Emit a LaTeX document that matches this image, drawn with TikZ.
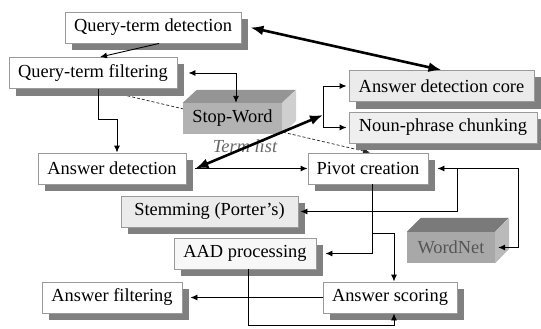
\documentclass[tikz,border=0pt]{standalone}
\usepackage{fontspec}
\setmainfont{Liberation Serif}
\usetikzlibrary{shadows,arrows.meta,backgrounds}

\definecolor{shgray}{HTML}{808080}
\definecolor{edgegray}{HTML}{9A9A9A}
\definecolor{paleA}{HTML}{EBEBEB}
\definecolor{paleB}{HTML}{EFEFEF}
\definecolor{paleC}{HTML}{F7F7F7}
\definecolor{swtop}{HTML}{959595}
\definecolor{swfront}{HTML}{B2B2B2}
\definecolor{swside}{HTML}{CFCFCF}
\definecolor{wntop}{HTML}{7A7A7A}
\definecolor{wnfront}{HTML}{A8A8A8}
\definecolor{wnside}{HTML}{BABABA}
\definecolor{wntext}{HTML}{555555}
\definecolor{listgray}{HTML}{666666}

\tikzset{
  box/.style={draw=edgegray, line width=0.9pt, fill=white, rectangle,
    inner sep=0pt, minimum height=31pt,
    font=\fontsize{18.4}{22}\selectfont,
    drop shadow={shadow xshift=7pt, shadow yshift=-7pt, fill=shgray, opacity=1}},
  cubeface/.style={rectangle, inner sep=0pt, minimum height=31pt,
    font=\fontsize{18.4}{22}\selectfont},
  link/.style={line width=0.9pt, -{Latex[length=7pt,width=6pt]}},
  link2/.style={line width=0.9pt, {Latex[length=7pt,width=6pt]}-{Latex[length=7pt,width=6pt]}},
  plain/.style={line width=0.9pt},
  heavy/.style={line width=2.6pt, {Latex[length=13pt,width=10pt]}-{Latex[length=13pt,width=10pt]}},
  refline/.style={line width=0.7pt, black!85, dash pattern=on 3pt off 2pt, -{Latex[length=7pt,width=6pt]}}
}

\begin{document}
\begin{tikzpicture}[x=1pt, y=-1pt]
\useasboundingbox (0,0) rectangle (541,329);

% processing steps
\node[box, minimum width=176pt] (qtd) at (153,27.5) {Query-term detection};
\node[box, minimum width=168pt] (qtf) at (93,73) {Query-term filtering};
\node[box, minimum width=185pt, fill=paleA] (adc) at (441.5,86) {Answer detection core};
\node[box, minimum width=188pt, fill=paleB] (npc) at (443,127.5) {Noun-phrase chunking};
\node[box, minimum width=148pt] (ad) at (112,168.5) {Answer detection};
\node[box, minimum width=120pt] (pc) at (368,168.5) {Pivot creation};
\node[box, minimum width=177pt, fill=paleA] (stem) at (209.5,211.5) {Stemming (Porter's)};
\node[box, minimum width=142pt, fill=paleC] (aad) at (245,253.5) {AAD processing};
\node[box, minimum width=140pt] (af) at (112,297.5) {Answer filtering};
\node[box, minimum width=134pt] (as) at (390,297.5) {Answer scoring};

% dashed reference line, running behind the resources
\begin{scope}[on background layer]
\draw[refline] ([xshift=5pt]qtf.south) -- ([xshift=2pt]pc.north);
\end{scope}

% resource: stop-word list (3D block)
\node[cubeface, minimum width=99pt, fill=swfront] (sw) at (232.5,118.5) {Stop-Word};
\fill[swtop] (sw.north west) -- ++(14,-13) -- ++(99,0) -- (sw.north east) -- cycle;
\fill[swside] (sw.north east) -- ++(14,-13) -- ++(0,31) -- (sw.south east) -- cycle;
\node[font=\itshape\fontsize{18.4}{22}\selectfont, text=listgray] (tl) at (245,146) {Term list};

% resource: WordNet (3D block)
\node[cubeface, minimum width=88pt, fill=wnfront, text=wntext] (wn) at (451,247.5) {WordNet};
\fill[wntop] (wn.north west) -- ++(14,-14) -- ++(88,0) -- (wn.north east) -- cycle;
\fill[wnside] (wn.north east) -- ++(14,-14) -- ++(0,31) -- (wn.south east) -- cycle;

% junction feeding the core modules
\coordinate (j) at (323,115);

% connectors
\draw[link] ([xshift=6pt]qtd.south) -- ([xshift=7pt]qtf.north);
\draw[link2] ([xshift=11pt]qtf.east) -| ([xshift=3.5pt]sw.north);
\draw[link] ([xshift=5pt]qtf.south) -- ++(0,30) -| ([xshift=5pt]ad.north);
\draw[heavy] ([xshift=9pt]qtd.east) -- (adc.north);
\draw[heavy] ([xshift=9pt]ad.east) -- (j);
\draw[link] (j) |- ([xshift=-2pt]adc.west);
\draw[link] (j) |- ([xshift=-2pt]npc.west);
\draw[link] ([xshift=9pt]ad.east) -- (pc.west);
\draw[link2] ([xshift=9pt]pc.east) -- ++(81,0) |- ([xshift=3pt]wn.east);
\draw[link] ([xshift=29pt]pc.east) |- ([xshift=2pt]stem.east);
\draw[link] ([xshift=4pt]pc.south) |- ([xshift=9pt]aad.east);
\draw[link] ([xshift=4pt,yshift=-49pt]pc.south) -| ([xshift=4pt]as.north);
\draw[link] (as.west) -- ([xshift=8pt]af.east);
\draw[link] ([xshift=3pt]aad.south) -- ++(0,56) -| ([xshift=4pt]as.south);
\end{tikzpicture}
\end{document}
